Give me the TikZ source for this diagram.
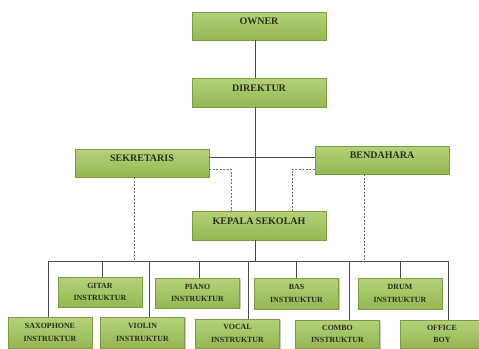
\documentclass[tikz,border=0pt]{standalone}
\usepackage{fontspec}
\setmainfont{Liberation Serif}
\usetikzlibrary{shadows}
\definecolor{boxtop}{HTML}{B4D27A}
\definecolor{boxbot}{HTML}{93B751}
\definecolor{boxline}{HTML}{7C9B43}
\definecolor{txt}{HTML}{2A2E1C}
\definecolor{ln}{HTML}{4A4A4A}
\tikzset{
  box/.style={draw=boxline, line width=0.6pt, top color=boxtop, bottom color=boxbot,
    text=txt, align=center, inner sep=0pt,
    drop shadow={shadow xshift=1.2pt, shadow yshift=-1.2pt, opacity=0.35, fill=black!60}},
  bigbox/.style={box, minimum width=134pt, font=\fontsize{10}{12}\selectfont\bfseries, text height=7.5pt, text depth=10pt},
  smallbox/.style={box, minimum width=84pt, font=\fontsize{7.9}{12.5}\selectfont\bfseries},
  conn/.style={draw=ln, line width=0.7pt},
  dconn/.style={draw=ln!80, line width=0.7pt, dash pattern=on 2pt off 1.5pt},
}
\begin{document}
\begin{tikzpicture}[x=1pt,y=-1pt]
\useasboundingbox (0,0) rectangle (479,348);
% top boxes
\node[bigbox, minimum height=28pt] (owner) at (259,26) {OWNER};
\node[bigbox, minimum height=29pt] (dir) at (259,92.5) {DIREKTUR};
\node[bigbox, minimum height=28pt] (sek) at (142,163) {SEKRETARIS};
\node[bigbox, minimum height=28pt] (bend) at (382,160) {BENDAHARA};
\node[bigbox, minimum height=29pt] (kep) at (259,225.5) {KEPALA SEKOLAH};
% upper instructor row
\node[smallbox, minimum height=30pt] (gitar) at (100,292) {GITAR\\INSTRUKTUR};
\node[smallbox, minimum height=30pt] (piano) at (197.5,293) {PIANO\\INSTRUKTUR};
\node[smallbox, minimum height=31pt] (bas) at (296.5,293.5) {BAS\\INSTRUKTUR};
\node[smallbox, minimum height=31pt] (drum) at (400,293.5) {DRUM\\INSTRUKTUR};
% lower row
\node[smallbox, minimum height=31pt] (sax) at (50,332.5) {SAXOPHONE\\INSTRUKTUR};
\node[smallbox, minimum height=31pt] (violin) at (142.5,332.5) {VIOLIN\\INSTRUKTUR};
\node[smallbox, minimum height=29pt] (vocal) at (237.5,333.5) {VOCAL\\INSTRUKTUR};
\node[smallbox, minimum height=28pt] (combo) at (337.5,334) {COMBO\\INSTRUKTUR};
\node[smallbox, minimum height=28pt] (office) at (442,334) {OFFICE\\BOY};
% coordinates
\coordinate (busL) at (48,261);
\coordinate (busR) at (448,261);
\coordinate (busK) at (255,261);
\coordinate (sekJ) at (231,169);
\coordinate (bendJ) at (292,169);
% solid connectors
\draw[conn] ([xshift=-4pt]owner.south) -- ([xshift=-4pt]dir.north);
\draw[conn] ([xshift=-4pt]dir.south) -- ([xshift=-4pt]kep.north);
\draw[conn] (sek.east |- 0,157) -- (bend.west |- 0,157);
\draw[conn] ([xshift=-4pt]kep.south) -- (busK);
\draw[conn] (busL) -- (busR);
\draw[conn] (102,261) -- (102,0 |- gitar.north);
\draw[conn] (199,261) -- (199,0 |- piano.north);
\draw[conn] (296,261) -- (296,0 |- bas.north);
\draw[conn] (400,261) -- (400,0 |- drum.north);
\draw[conn] (busL) -- (busL |- sax.north);
\draw[conn] (149,261) -- (149,0 |- violin.north);
\draw[conn] (248,261) -- (248,0 |- vocal.north);
\draw[conn] (349,261) -- (349,0 |- combo.north);
\draw[conn] (busR) -- (busR |- office.north);
% dashed connectors
\draw[dconn] (sek.east |- sekJ) -- (sekJ) -- (sekJ |- kep.north);
\draw[dconn] (bend.west |- bendJ) -- (bendJ) -- (bendJ |- kep.north);
\draw[dconn] (134,0 |- sek.south) -- (134,261);
\draw[dconn] (364,0 |- bend.south) -- (364,261);
\end{tikzpicture}
\end{document}
